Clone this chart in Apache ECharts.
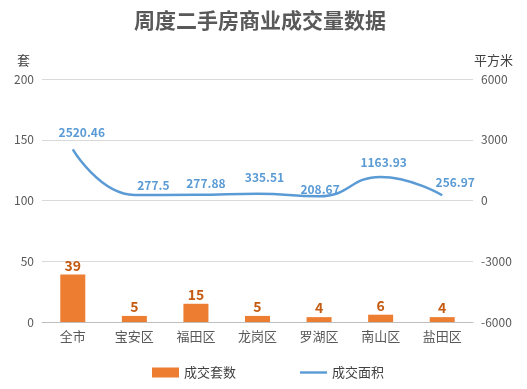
<!DOCTYPE html>
<html><head><meta charset="utf-8">
<script src="https://cdn.jsdelivr.net/npm/echarts@6/dist/echarts.min.js"></script>
<style>html,body{margin:0;padding:0;background:#fff}#c{width:527px;height:389px}</style>
</head><body><div id="c"></div>
<script>
const categories = ['全市','宝安区','福田区','龙岗区','罗湖区','南山区','盐田区'];
const units = [39,5,15,5,4,6,4];
const area = [2520.46,277.5,277.88,335.51,208.67,1163.93,256.97];
const leftTicks = {min:0,max:200,interval:50};
const rightTicks = {min:-6000,max:6000,interval:3000};
// label placement tweaks (style only) for the area labels
const areaLabelOffsets = [[9,-11],[19,-3],[10,-5],[7,-10],[1,-1],[3,-8],[13,-7]];

const FONT = '"Noto Sans CJK SC", "Microsoft YaHei", sans-serif';
const chart = echarts.init(document.getElementById('c'));
chart.setOption({
  animation:false,
  textStyle:{fontFamily:FONT},
  title:{text:'周度二手房商业成交量数据',left:129,top:5,
    textStyle:{fontSize:21,fontWeight:'bold',color:'#595959',fontFamily:FONT}},
  legend:{bottom:5,left:147,itemGap:64,itemWidth:27,itemHeight:10,
    textStyle:{fontSize:13,color:'#404040',fontFamily:FONT},
    data:[{name:'成交套数',icon:'rect'},
          {name:'成交面积',icon:'path://M0,4 L28,4 L28,6.5 L0,6.5 Z',itemStyle:{color:'#5B9BD5'}}]},
  grid:{left:42,right:54,top:79,bottom:67},
  xAxis:{type:'category',data:categories,
    axisLine:{lineStyle:{color:'#BFBFBF'}},axisTick:{show:false},
    axisLabel:{color:'#595959',fontSize:13,margin:8,fontFamily:FONT}},
  yAxis:[
    {type:'value',min:leftTicks.min,max:leftTicks.max,interval:leftTicks.interval,
     name:'套',nameGap:12,nameTextStyle:{color:'#404040',fontSize:13,align:'right',padding:[0,12,0,0]},
     axisLine:{show:false},axisTick:{show:false},
     axisLabel:{color:'#595959',fontSize:12,margin:8},
     splitLine:{lineStyle:{color:'#D9D9D9'}}},
    {type:'value',min:rightTicks.min,max:rightTicks.max,interval:rightTicks.interval,
     name:'平方米',nameGap:12,nameTextStyle:{color:'#404040',fontSize:13,align:'left',padding:[0,0,0,1]},
     axisLine:{show:false},axisTick:{show:false},
     axisLabel:{color:'#595959',fontSize:12,margin:8,formatter:v=>String(v)},
     splitLine:{show:false}}
  ],
  series:[
    {name:'成交套数',type:'bar',data:units,barWidth:25,yAxisIndex:0,
     itemStyle:{color:'#ED7D31'},
     label:{show:true,position:'top',distance:2,color:'#C55A11',fontWeight:'bold',fontSize:14}},
    {name:'成交面积',type:'line',yAxisIndex:1,smooth:0.5,
     data:area.map((v,i)=>({value:v,label:{offset:areaLabelOffsets[i]}})),
     symbol:'circle',symbolSize:0.1,showSymbol:true,
     lineStyle:{color:'#5B9BD5',width:2.5},itemStyle:{color:'#5B9BD5'},
     label:{show:true,position:'top',distance:0,color:'#5B9BD5',fontWeight:'bold',fontSize:12}}
  ]
});
</script></body></html>
